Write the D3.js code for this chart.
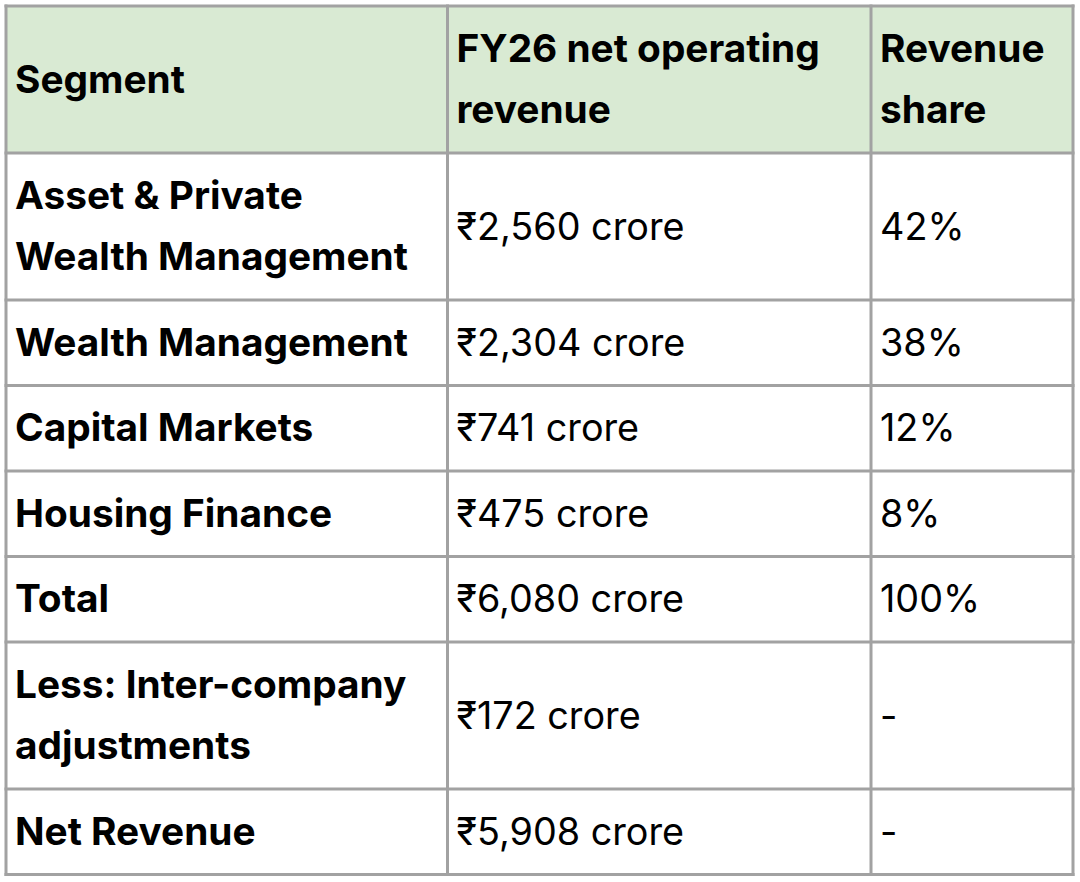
<!DOCTYPE html>
<html>
<head>
<meta charset="utf-8">
<script src="https://cdn.jsdelivr.net/npm/d3@7"></script>
<style>
  html, body { margin: 0; padding: 0; background: #ffffff; }
  svg { display: block; }
</style>
</head>
<body>
<svg id="chart" width="1080" height="882"></svg>
<script>
// ---- data ----
const headers = ["Segment", "FY26 net operating revenue", "Revenue share"];
const segments = [
  "Asset & Private Wealth Management",
  "Wealth Management",
  "Capital Markets",
  "Housing Finance",
  "Total",
  "Less: Inter-company adjustments",
  "Net Revenue"
];
const revenueCrore = [2560, 2304, 741, 475, 6080, 172, 5908];
const revenueShare = [42, 38, 12, 8, 100, null, null];

// ---- layout ----
const colEdges = [6, 447.5, 871, 1073];
const tableTop = 6, tableBottom = 874.5;
const padX = 9;
const fontFamily = "Inter, 'Noto Sans', 'DejaVu Sans', sans-serif";

const svg = d3.select("#chart");
svg.append("rect").attr("width", 1080).attr("height", 882).attr("fill", "#ffffff");

const fmtNum = d3.format(",");
const rows = segments.map((s, i) => [
  { text: s, bold: true },
  { text: "₹" + fmtNum(revenueCrore[i]) + " crore", bold: false },
  { text: revenueShare[i] == null ? "-" : revenueShare[i] + "%", bold: false }
]);
const allRows = [headers.map(h => ({ text: h, bold: true, header: true }))].concat(rows);

// measure helper to calibrate font size
const meas = svg.append("text").attr("font-family", fontFamily).attr("x", -9999).attr("y", -9999);
function measure(str, size, bold) {
  meas.attr("font-size", size).attr("font-weight", bold ? 700 : 400).text(str);
  return meas.node().getComputedTextLength();
}
const boldSize = 100 * 393 / measure("Wealth Management", 100, true);
const regSize = 100 * 228 / measure("₹2,560 crore", 100, false);
const lineH = 61.5;

function wrap(str, maxW, size, bold) {
  const words = str.split(" ");
  const lines = [];
  let cur = "";
  words.forEach(w => {
    const trial = cur ? cur + " " + w : w;
    if (measure(trial, size, bold) > maxW && cur) { lines.push(cur); cur = w; }
    else cur = trial;
  });
  if (cur) lines.push(cur);
  return lines;
}

allRows.forEach(r => r.forEach((c, j) => {
  const maxW = colEdges[j + 1] - colEdges[j] - 2 * padX;
  c.lines = wrap(c.text, maxW, c.bold ? boldSize : regSize, c.bold);
}));
const lineCounts = allRows.map(r => d3.max(r, c => c.lines.length));
const totalLines = d3.sum(lineCounts);
const rowPad = (tableBottom - tableTop - totalLines * lineH) / allRows.length;
const rowHeights = lineCounts.map(n => n * lineH + rowPad);
const rowTops = [];
let acc = tableTop;
rowHeights.forEach(h => { rowTops.push(acc); acc += h; });
meas.remove();

const gRows = svg.selectAll("g.row").data(allRows).join("g").attr("class", "row");
gRows.append("rect")
  .attr("x", colEdges[0]).attr("width", colEdges[3] - colEdges[0])
  .attr("y", (d, i) => rowTops[i]).attr("height", (d, i) => rowHeights[i])
  .attr("fill", (d, i) => i === 0 ? "#d9ead3" : "#ffffff");

gRows.each(function (r, i) {
  const cy = rowTops[i] + rowHeights[i] / 2;
  const g = d3.select(this);
  r.forEach((c, j) => {
    const n = c.lines.length;
    const t = g.append("text")
      .attr("font-family", fontFamily)
      .attr("font-size", c.bold ? boldSize : regSize)
      .attr("font-weight", c.bold ? 700 : 400)
      .attr("fill", "#000000");
    c.lines.forEach((ln, k) => {
      t.append("tspan")
        .attr("x", colEdges[j] + padX)
        .attr("y", cy + (k - (n - 1) / 2) * lineH + 13)
        .text(ln);
    });
  });
});

const gridColor = "#a2a2a2";
const hLines = rowTops.concat([tableBottom]);
svg.selectAll("line.h").data(hLines).join("line").attr("class", "h")
  .attr("x1", colEdges[0] - 1.5).attr("x2", colEdges[3] + 1.5)
  .attr("y1", d => d).attr("y2", d => d)
  .attr("stroke", gridColor).attr("stroke-width", 3);
svg.selectAll("line.v").data(colEdges).join("line").attr("class", "v")
  .attr("x1", d => d).attr("x2", d => d)
  .attr("y1", tableTop - 1.5).attr("y2", tableBottom + 1.5)
  .attr("stroke", gridColor).attr("stroke-width", 3);
</script>
</body>
</html>
